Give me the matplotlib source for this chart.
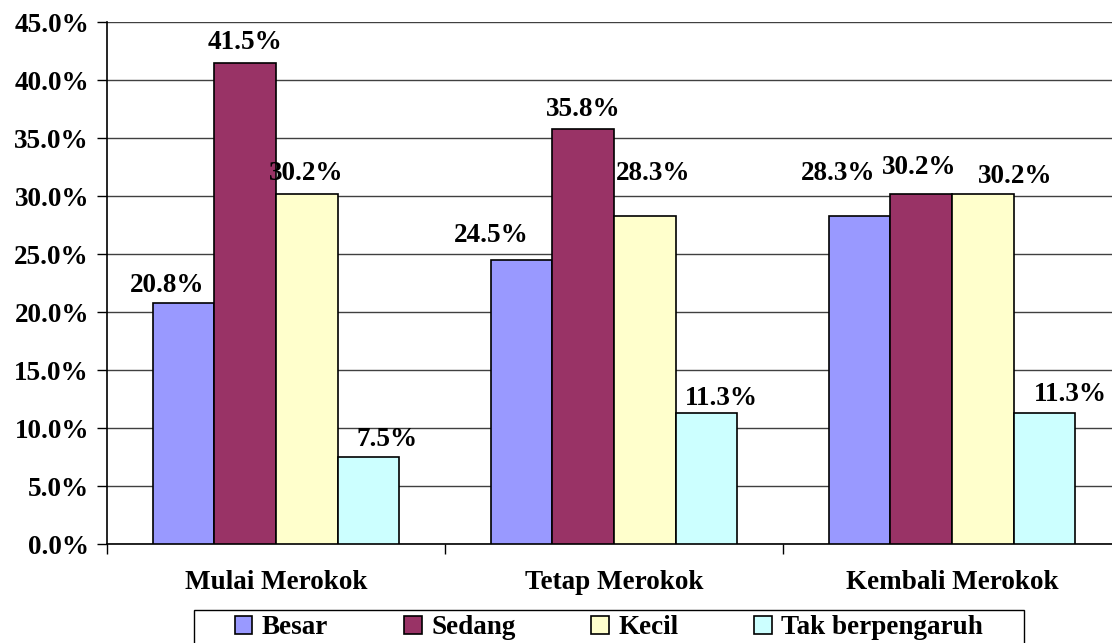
import matplotlib
matplotlib.use("Agg")
import matplotlib.pyplot as plt
import numpy as np
from matplotlib.patches import Patch, Rectangle

categories = ["Mulai Merokok", "Tetap Merokok", "Kembali Merokok"]
series_names = ["Besar", "Sedang", "Kecil", "Tak berpengaruh"]
besar = [20.8, 24.5, 28.3]
sedang = [41.5, 35.8, 30.2]
kecil = [30.2, 28.3, 30.2]
tak = [7.5, 11.3, 11.3]
y_ticks = [0, 5, 10, 15, 20, 25, 30, 35, 40, 45]

values = [besar, sedang, kecil, tak]
colors = ["#9999FF", "#993366", "#FFFFCC", "#CCFFFF"]

# data-label placement (dx, baseline gap above bar top), in pixels
label_dx = [[-17, -30, -22], [0, 0, -2], [-1, 8, 32], [19, 15, 26]]
label_gap = [[11, 18, 36], [14, 13, 20], [14, 36, 11], [11, 8, 12]]

plt.rcParams['font.family'] = ['Liberation Serif', 'DejaVu Serif']
plt.rcParams['font.weight'] = 'bold'
FS = 19.5

fig = plt.figure(figsize=(11.12, 6.43), dpi=100)
ax = fig.add_axes([107/1112, 99/643, 1014/1112, 522/643])

x = np.arange(len(categories))
bw = 0.182
offsets = (np.arange(4) - 1.5) * bw
for i, (vals, col) in enumerate(zip(values, colors)):
    ax.bar(x + offsets[i], vals, width=bw, color=col, edgecolor="black",
           linewidth=1.2, zorder=3)

for i, vals in enumerate(values):
    for j, v in enumerate(vals):
        ax.annotate(f"{v:.1f}%", (x[j] + offsets[i], v),
                    xytext=(label_dx[i][j], label_gap[i][j]),
                    textcoords="offset pixels", ha="center", va="baseline",
                    fontsize=FS, fontweight="bold", zorder=5)

ax.set_xlim(-0.5, 2.5)
ax.set_ylim(0, 45)
ax.set_yticks(y_ticks)
ax.set_yticklabels([f"{t:.1f}%" for t in y_ticks], fontsize=FS, fontweight="bold")
ax.yaxis.grid(True, color="#404040", linewidth=1.0, zorder=0)
ax.set_axisbelow(True)

ax.set_xticks([-0.5, 0.5, 1.5, 2.5])
ax.set_xticklabels([])
ax.set_xticks(x, minor=True)
ax.set_xticklabels(categories, minor=True, fontsize=FS, fontweight="bold")
ax.tick_params(axis="x", which="minor", length=0, pad=19)
ax.tick_params(axis="x", which="major", length=7, width=1, direction="out")
ax.tick_params(axis="y", length=7, width=1, direction="out", pad=6)

for s in ["top", "right"]:
    ax.spines[s].set_visible(False)
ax.spines["left"].set_linewidth(1.2)
ax.spines["bottom"].set_linewidth(1.2)

# legend frame
fig.patches.append(Rectangle((194/1112, -10/643), (1024-194)/1112, (33+10)/643,
                             transform=fig.transFigure, facecolor="white",
                             edgecolor="black", linewidth=1.0))
handles = [Patch(facecolor=c, edgecolor="black", linewidth=1.2) for c in colors]
leg = fig.legend(handles, series_names, loc="center",
                 bbox_to_anchor=(609/1112, 1 - 628/643),
                 ncol=4, frameon=False,
                 prop={"size": FS, "weight": "bold"}, handlelength=0.65,
                 handleheight=0.65, handletextpad=0.35, columnspacing=2.8,
                 borderpad=0.0)

fig.savefig("out.png", dpi=100)
